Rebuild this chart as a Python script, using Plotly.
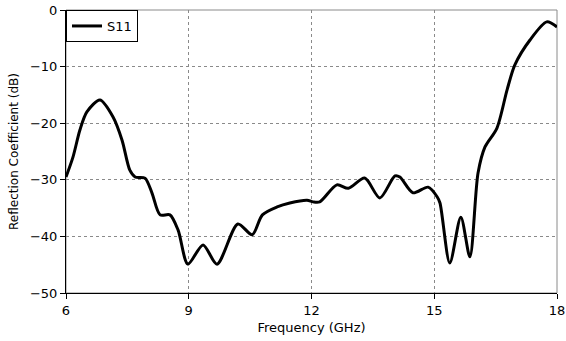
import plotly.graph_objects as go

# S11 sweep, frequency in GHz and reflection coefficient in dB
freq_ghz = [6.0, 6.17, 6.34, 6.51, 6.83, 7.15, 7.37, 7.56, 7.69, 7.93, 8.1, 8.3, 8.54,
            8.74, 8.98, 9.35, 9.69, 10.2, 10.55, 10.8, 11.16, 11.47, 11.89, 12.04, 12.2,
            12.62, 12.9, 13.3, 13.67, 14.04, 14.16, 14.48, 14.85, 15.07, 15.14, 15.38,
            15.65, 15.87, 16.07, 16.24, 16.53, 16.78, 16.97, 17.34, 17.75, 18.0]
s11_db = [-29.5, -26.0, -21.2, -18.0, -15.9, -18.9, -23.0, -28.3, -29.5, -29.7, -32.3,
          -36.2, -36.2, -38.9, -44.9, -41.5, -44.9, -37.8, -39.7, -36.2, -34.8, -34.1,
          -33.6, -33.9, -33.9, -30.9, -31.5, -29.7, -33.2, -29.3, -29.5, -32.3, -31.3,
          -33.0, -34.1, -44.7, -36.6, -43.6, -28.8, -24.2, -20.9, -14.1, -9.7, -5.3,
          -2.1, -3.0]

x_ticks = [6, 9, 12, 15, 18]
y_ticks = [0, -10, -20, -30, -40, -50]

FONT = "DejaVu Sans"

fig = go.Figure()
fig.add_trace(go.Scatter(
    x=freq_ghz, y=s11_db, mode="lines", name="S11",
    line=dict(color="black", width=3, shape="spline", smoothing=0.8),
))

axis_common = dict(
    showgrid=True, gridcolor="#8a8a8a", griddash="dot", gridwidth=1,
    showline=True, linecolor="black", linewidth=1,
    ticks="outside", ticklen=5, tickcolor="black",
    tickfont=dict(family=FONT, size=13, color="black"),
    zeroline=False, automargin=False,
)

fig.update_xaxes(range=[6, 18], tickvals=x_ticks, **axis_common,
                 title=dict(text="Frequency (GHz)", font=dict(family=FONT, size=13, color="black"),
                            standoff=6))
fig.update_yaxes(range=[-50, 0], tickvals=y_ticks, **axis_common,
                 title=dict(text="Reflection Coefficient (dB)",
                            font=dict(family=FONT, size=12, color="black"), standoff=8))

# grey frame on the top and right sides of the plotting area
fig.add_shape(type="rect", xref="paper", yref="paper", x0=0, y0=0, x1=1, y1=1,
              line=dict(color="#8a8a8a", width=1), layer="below")

fig.update_layout(
    width=566, height=341,
    margin=dict(l=66, r=9, t=10, b=48, autoexpand=False),
    paper_bgcolor="white", plot_bgcolor="white",
    showlegend=True,
    legend=dict(x=0, y=1, xanchor="left", yanchor="top",
                bgcolor="white", bordercolor="black", borderwidth=1,
                font=dict(family=FONT, size=13, color="black"),
                tracegroupgap=0, itemwidth=30),
    font=dict(family=FONT),
)

fig.write_html("out.html")
